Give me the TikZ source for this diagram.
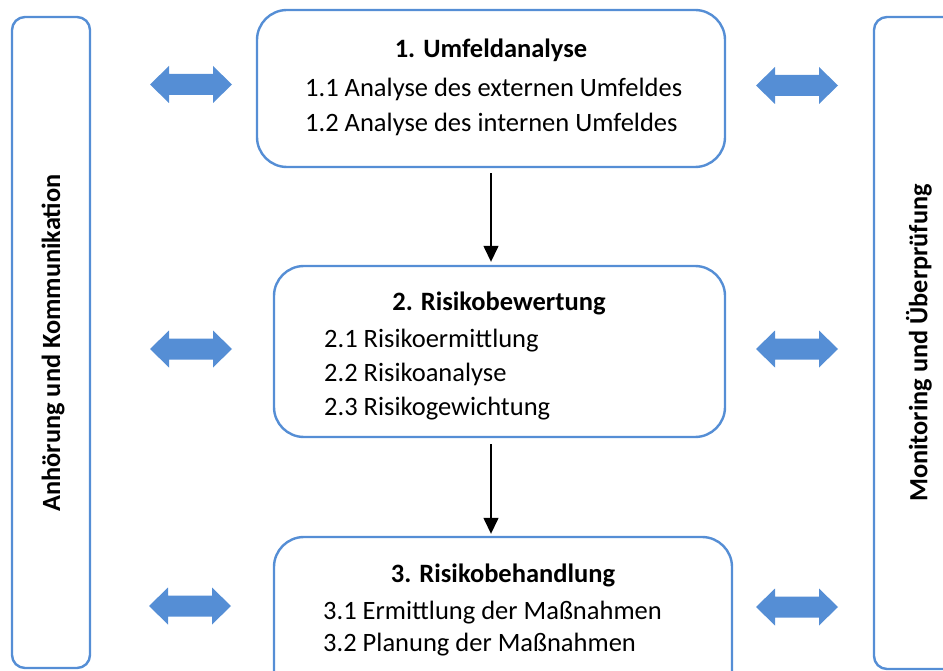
\documentclass[tikz,border=0pt]{standalone}
\usepackage{fontspec}
\setmainfont{Carlito}
\usetikzlibrary{arrows.meta}
\definecolor{boxblue}{RGB}{85,142,213}
\begin{document}
\begin{tikzpicture}[x=1pt,y=-1pt,
  box/.style={draw=boxblue, line width=2.4pt, rounded corners=30pt, fill=white, inner sep=0pt},
  sidebox/.style={draw=boxblue, line width=2.4pt, rounded corners=13pt, fill=white, inner sep=0pt},
  txt/.style={font=\fontsize{26.5}{32}\selectfont, inner sep=0pt},
  title/.style={font=\fontsize{26.5}{32}\selectfont\bfseries, inner sep=0pt, anchor=base},
  item/.style={txt, anchor=base west},
  side/.style={font=\fontsize{26.3}{32}\selectfont\bfseries, inner sep=0pt, rotate=90},
  conn/.style={line width=1.4pt, -{Triangle[width=15pt,length=16pt]}},
  dblarrow/.pic={\fill[boxblue] (0,0) -- (19,-18.5) -- (19,-10.5) -- (63,-10.5) -- (63,-18.5) -- (82,0) -- (63,18.5) -- (63,10.5) -- (19,10.5) -- (19,18.5) -- cycle;}
]
\useasboundingbox (0,0) rectangle (943,671);
% side boxes
\node[sidebox, minimum width=78pt, minimum height=651pt] (lb) at (51,342.5) {};
\node[sidebox, minimum width=100pt, minimum height=652pt] (rb) at (924,343) {};
\node[side] (lt) at (53,343) {Anhörung und Kommunikation};
\node[side] (rt) at (919,343) {Monitoring und Überprüfung};
% main boxes
\node[box, minimum width=468pt, minimum height=157pt] (b1) at (491,88.5) {};
\node[box, minimum width=451pt, minimum height=171pt] (b2) at (499.5,351.5) {};
\node[box, minimum width=458pt, minimum height=170pt] (b3) at (503,622) {};
% texts box 1
\node[title] (t1) at (491,58) {1. Umfeldanalyse};
\node[item] (t11) at (305,97) {1.1 Analyse des externen Umfeldes};
\node[item] (t12) at (305,132) {1.2 Analyse des internen Umfeldes};
% texts box 2
\node[title] (t2) at (499,310) {2. Risikobewertung};
\node[item] (t21) at (324,347) {2.1 Risikoermittlung};
\node[item] (t22) at (324,381) {2.2 Risikoanalyse};
\node[item] (t23) at (324,415) {2.3 Risikogewichtung};
% texts box 3
\node[title] (t3) at (503,582) {3. Risikobehandlung};
\node[item] (t31) at (323,619) {3.1 Ermittlung der Maßnahmen};
\node[item] (t32) at (323,651) {3.2 Planung der Maßnahmen};
% connectors
\draw[conn, shorten >=3pt] ([yshift=-5pt]b1.south) -- (b1.south |- b2.north);
\draw[conn, shorten >=2pt] ([yshift=-6pt]b1.south |- b2.south) -- (b1.south |- b3.north);
% double arrows
\pic at (150,84.5) {dblarrow};
\pic at (150,349) {dblarrow};
\pic at (149,606) {dblarrow};
\pic at (756,85.5) {dblarrow};
\pic at (756,349) {dblarrow};
\pic at (756,607) {dblarrow};
\end{tikzpicture}
\end{document}
